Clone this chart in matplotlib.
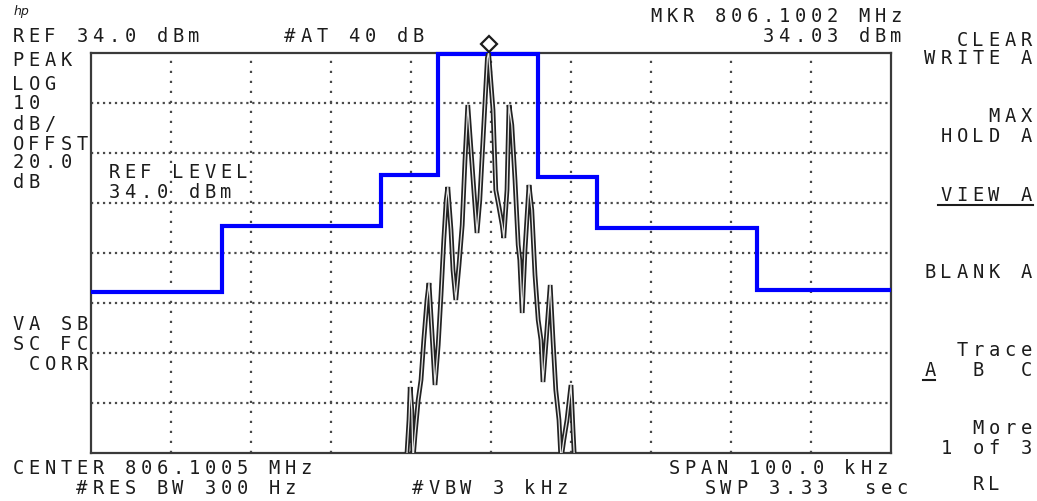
import numpy as np
import matplotlib
matplotlib.use("Agg")
import matplotlib.pyplot as plt
from matplotlib.lines import Line2D
from matplotlib.transforms import offset_copy

plt.rcParams['lines.scale_dashes'] = False
plt.rcParams['font.family'] = ['DejaVu Sans Mono']

# analyzer settings
ref_level = 34.0      # dBm, top of the screen
db_per_div = 10.0
n_ydiv = 8
span_khz = 100.0

# measured trace (offset from center in kHz, level in dBm)
trace_khz = [-10.75, -10.5, -10.25, -10.1, -9.9, -9.75, -9.5, -9.1, -8.75, -8.4,
             -8.0, -7.75, -7.4, -7.0, -6.6, -6.25, -5.9, -5.6, -5.4, -5.0,
             -4.75, -4.4, -4.0, -3.6, -3.25, -2.9, -2.5, -2.1, -1.75, -1.4,
             -1.0, -0.6, -0.45, -0.3, 0.25, 0.6, 1.0, 1.4, 1.6, 2.0,
             2.25, 2.6, 3.0, 3.4, 3.6, 3.9, 4.25, 4.75, 5.1, 5.5,
             5.9, 6.25, 6.5, 6.9, 7.4, 7.75, 8.1, 8.5, 8.75, 9.1,
             9.5, 10.0, 10.25, 10.5]
trace_dbm = [-49.4, -46.0, -39.4, -32.8, -37.4, -47.4, -42.4, -35.4, -31.4, -23.4,
             -15.4, -12.0, -21.4, -32.4, -24.4, -14.4, -3.4, 4.6, 7.2, -1.4,
             -9.4, -15.4, -8.4, -0.4, 12.6, 23.6, 14.6, 5.6, -2.0, 4.6,
             16.6, 28.6, 33.0, 34.03, 22.6, 6.6, 3.2, -0.4, -3.0, 6.6,
             23.6, 19.6, 8.6, -4.4, -7.4, -18.0, -5.4, 7.6, 2.6, -10.4,
             -19.4, -23.4, -31.8, -23.4, -12.4, -23.4, -33.4, -39.4, -47.4, -43.4,
             -39.4, -32.4, -41.4, -49.4]

# limit line: segment edges (kHz) and levels (dBm)
mask_edges_khz = [-50.0, -33.6, -13.7, -6.6, 5.9, 13.3, 33.3, 50.0]
mask_dbm = [-13.7, -0.6, 9.6, 33.8, 9.2, -1.0, -13.4]

marker_khz = -0.3
marker_dbm = 34.03

# screen annotations: (text, column x px, row y px)
header_left = [("REF 34.0 dBm", 12, 36), ("#AT 40 dB", 284, 36)]
header_right = [("MKR 806.1002 MHz", 902, 16), ("34.03 dBm", 902, 36)]
side_left = [("PEAK", 61), ("LOG", 84), ("10", 104), ("dB/", 124), ("OFFST", 144),
             ("20.0", 163), ("dB", 183), ("VA SB", 324), ("SC FC", 344), (" CORR", 364)]
ref_box = [("REF LEVEL", 172), ("34.0 dBm", 192)]
softkeys = [("CLEAR", 40), ("WRITE A", 58), ("MAX", 117), ("HOLD A", 136),
            ("VIEW A", 195), ("BLANK A", 272), ("Trace", 351), ("A  B  C", 370),
            ("More", 429), ("1 of 3", 448)]
footer = [("CENTER 806.1005 MHz", 12, 468), ("SPAN 100.0 kHz", 668, 468),
          ("#RES BW 300 Hz", 76, 488), ("#VBW 3 kHz", 412, 488),
          ("SWP 3.33  sec", 704, 488), ("RL", 972, 485)]

W, H = 1037, 501
PITCH = 16
CHW = 12
INK = '#1c1c1c'

fig = plt.figure(figsize=(W / 100, H / 100), dpi=100)
fig.patch.set_facecolor('white')


def put(s, x, y, right=False, size=13.5):
    # fixed-pitch character grid like the instrument display
    if right:
        x = x - (len(s) - 1) * PITCH - CHW
    for i, ch in enumerate(s):
        if ch == ' ':
            continue
        fig.text((x + i * PITCH + CHW / 2) / W, 1 - y / H, ch, ha='center',
                 va='center', fontsize=size, color=INK)


def hline(x0, x1, y, lw=1.5, color=INK):
    fig.add_artist(Line2D([x0 / W, x1 / W], [1 - y / H, 1 - y / H],
                          transform=fig.transFigure, color=color, lw=lw))


ax = fig.add_axes([91 / W, 48 / H, 800 / W, 400 / H])
ax.set_xlim(-span_khz / 2, span_khz / 2)
ax.set_ylim(ref_level - n_ydiv * db_per_div, ref_level)
ax.set_xticks(np.arange(-40, 50, 10))
ax.set_yticks(ref_level - db_per_div * np.arange(1, n_ydiv))
ax.tick_params(length=0, labelbottom=False, labelleft=False)
for sp in ax.spines.values():
    sp.set_color('#3a3a3a')
    sp.set_linewidth(1.6)
ax.set_axisbelow(True)
ax.xaxis.grid(True, color='#4a4a4a', linewidth=1.6, linestyle=(0, (1.6, 5.6)))
ax.yaxis.grid(True, color='#4a4a4a', linewidth=1.6, linestyle=(0, (1.6, 2.7)))

# limit line
ax.stairs(mask_dbm, mask_edges_khz, color='#0000ff', linewidth=3.0,
          baseline=None, clip_on=False, zorder=3)

# trace drawn as a hollow double stroke
ax.plot(trace_khz, trace_dbm, color='#222222', linewidth=3.4, zorder=4,
        solid_joinstyle='miter')
ax.plot(trace_khz, trace_dbm, color='#e6e6e6', linewidth=0.9, zorder=5)

# peak marker sits above the trace
mk_tr = offset_copy(ax.transData, fig=fig, x=0, y=9, units='dots')
ax.plot([marker_khz], [marker_dbm], marker='D', markersize=8.5,
        markerfacecolor='white', markeredgecolor=INK, markeredgewidth=1.6,
        transform=mk_tr, clip_on=False, zorder=6)

# hp logo
fig.text(14 / W, 1 - 12 / H, 'hp', fontsize=9, style='italic', color=INK,
         family='DejaVu Sans', ha='left', va='center')

for s, x, y in header_left:
    put(s, x, y)
for s, x, y in header_right:
    put(s, x, y, right=True)
for s, y in side_left:
    put(s, 12, y)
for s, y in ref_box:
    put(s, 108, y)
for s, y in softkeys:
    put(s, 1032, y, right=True)
for s, x, y in footer:
    put(s, x, y)

# softkey underlines
hline(938, 1033, 205)
hline(923, 935, 380)

fig.savefig('out.png', dpi=100, facecolor='white')
